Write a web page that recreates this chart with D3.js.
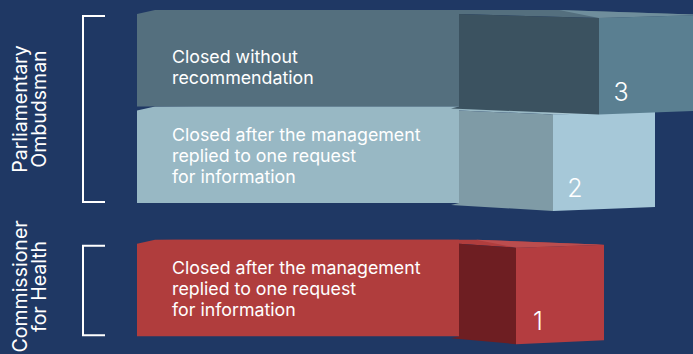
<!DOCTYPE html>
<html>
<head>
<meta charset="utf-8">
<script src="https://cdn.jsdelivr.net/npm/d3@7"></script>
<style>
  html, body { margin: 0; padding: 0; background: #1f3864; }
  svg { display: block; }
  text { font-family: Inter, "Open Sans", sans-serif; fill: #fff; }
</style>
</head>
<body>
<div id="chart"></div>
<script>
(function() {

// data
var groups = ["Parliamentary Ombudsman", "Commissioner for Health"];
var groupLines = [["Parliamentary", "Ombudsman"], ["Commissioner", "for Health"]];
var categories = [
  ["Closed without", "recommendation"],
  ["Closed after the management", "replied to one request", "for information"],
  ["Closed after the management", "replied to one request", "for information"]
];
var rowGroup = [0, 0, 1];
var values = [3, 2, 1];

// colours per row: panel, side (shadow), front, top highlight
var panelColors = ["#546f7e", "#98b8c4", "#b03d3d"];
var sideColors  = ["#3b5260", "#7f9ba6", "#6e1e22"];
var frontColors = ["#5a7f91", "#a6c8d8", "#b43d40"];
var topColors   = ["#6f8e9c", "#a9c6d1", "#bb4d4e"];

var width = 693, height = 354;

var svg = d3.select("#chart").append("svg")
    .attr("width", width)
    .attr("height", height);

svg.append("rect").attr("width", width).attr("height", height).attr("fill", "#1f3864");

// vertical: row units, groups separated by a gap
var groupGap = 0.38;
var y = d3.scaleLinear().domain([0, 1]).range([10, 106.5]);
var rowH = y(1) - y(0);
var rowTop = function(i) { return y(i + rowGroup[i] * groupGap); };

// horizontal: bar end from value, front face depth from value
var panelLeft = 137, split = 459;
var x = d3.scaleLinear().domain([1, 3]).range([604, 706]);
var depth = d3.scaleLinear().domain([1, 2, 3]).range([88, 102, 107]);

var line = d3.line();

// draw lower rows first so upper rows overlap them
var order = d3.range(values.length).reverse();

order.forEach(function(i) {
  var t = rowTop(i), b = t + rowH;
  var end = x(values[i]);
  var fl = end - depth(values[i]);
  var g = svg.append("g").attr("class", "bar");

  // top face
  g.append("path")
      .attr("d", line([[panelLeft + 18, t], [fl - 40, t], [end, t + 5], [fl, t + 8], [split, t + 4]]) + "Z")
      .attr("fill", panelColors[i]);
  g.append("path")
      .attr("d", line([[fl - 40, t], [end, t + 5], [fl, t + 8]]) + "Z")
      .attr("fill", topColors[i]);

  // side (shadow) face
  g.append("path")
      .attr("d", line([[split, t + 4], [fl, t + 8], [fl, t + rowH + 8], [split - 8, t + rowH + 2], [split, t + rowH]]) + "Z")
      .attr("fill", sideColors[i]);

  // front face
  g.append("path")
      .attr("d", line([[fl, t + 8], [end, t + 5], [end, t + rowH + 4], [fl, t + rowH + 8]]) + "Z")
      .attr("fill", frontColors[i]);

  // label panel
  g.append("path")
      .attr("d", line([[panelLeft, t + 4], [panelLeft + 18, t], [split, t], [split, b], [panelLeft, b]]) + "Z")
      .attr("fill", panelColors[i]);

  // category text
  var lines = categories[i];
  var lh = 21;
  var lastBase = t + rowH - 20 - (3 - lines.length) * 3;
  lines.forEach(function(d, k) {
    g.append("text")
        .attr("x", 172)
        .attr("y", lastBase - (lines.length - 1 - k) * lh)
        .attr("font-size", 17.8)
        .text(d);
  });

  // value
  g.append("text")
      .attr("x", fl + 22)
      .attr("y", t + rowH - 6)
      .attr("text-anchor", "middle")
      .attr("font-family", "'Open Sans', sans-serif")
      .attr("font-size", 25)
      .attr("font-weight", 300)
      .text(values[i]);
});

// group brackets and labels
groups.forEach(function(gName, gi) {
  var rows = d3.range(values.length).filter(function(i) { return rowGroup[i] === gi; });
  var top = rowTop(rows[0]) + 6;
  var bot = rowTop(rows[rows.length - 1]) + rowH - 1;
  var bx = 83, bw = 22;

  svg.append("path")
      .attr("d", line([[bx + bw, top], [bx, top], [bx, bot], [bx + bw, bot]]))
      .attr("fill", "none")
      .attr("stroke", "#fff")
      .attr("stroke-width", 2);

  var cy = (top + bot) / 2 + (gi === 1 ? -4 : 0);
  groupLines[gi].forEach(function(d, k) {
    svg.append("text")
        .attr("transform", "translate(" + (27 + k * 19) + "," + cy + ") rotate(-90)")
        .attr("text-anchor", "middle")
        .attr("font-size", 19.5)
        .text(d);
  });
});

})();
</script>
</body>
</html>
